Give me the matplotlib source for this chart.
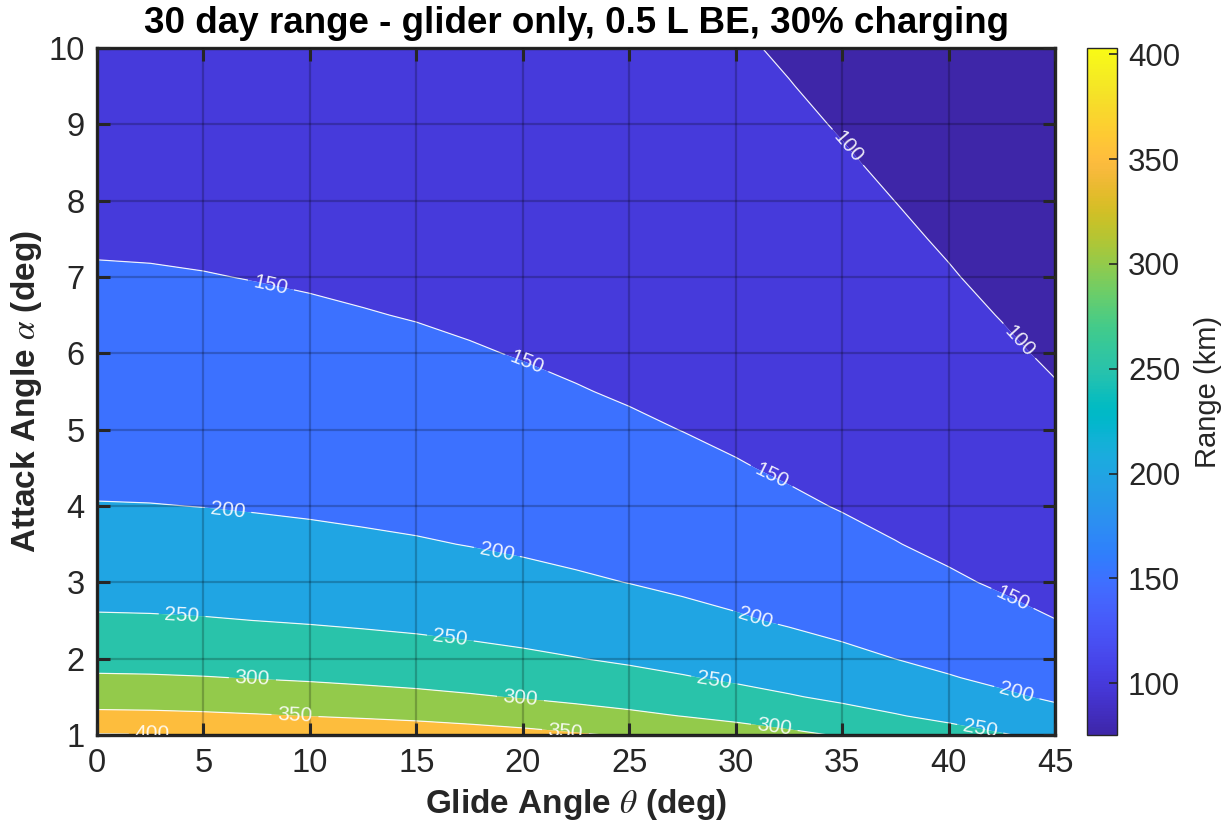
import numpy as np
import matplotlib
matplotlib.use("Agg")
import matplotlib.pyplot as plt
from matplotlib.colors import LinearSegmentedColormap, Normalize
from matplotlib.cm import ScalarMappable

plt.rcParams['font.family'] = ['Liberation Sans', 'DejaVu Sans']
plt.rcParams['mathtext.fontset'] = 'stix'

# ---- data -------------------------------------------------------------
glide_angle = [0, 2.5, 5, 7.5, 10, 12.5, 15, 17.5, 20, 22.5,
               25, 27.5, 30, 32.5, 35, 37.5, 40, 42.5, 45]            # theta (deg)
attack_angle = [1, 1.25, 1.5, 1.75, 2, 2.5, 3, 3.5, 4, 4.5, 5,
                5.5, 6, 6.5, 7, 7.5, 8, 8.5, 9, 9.5, 10]               # alpha (deg)

# range (km): one row per attack angle, one column per glide angle
range_km = [
    [403.0, 401.8, 399.0, 394.9, 390.5, 385.3, 379.6, 372.4, 364.3, 355.0, 345.4, 334.5, 322.8, 309.9, 296.6, 282.5, 268.0, 253.1, 238.2],
    [360.5, 359.4, 356.9, 353.3, 349.3, 344.6, 339.6, 333.1, 325.9, 317.6, 308.9, 299.2, 288.8, 277.2, 265.3, 252.7, 239.7, 226.4, 213.1],
    [329.1, 328.1, 325.8, 322.5, 318.9, 314.6, 310.0, 304.1, 297.5, 289.9, 282.0, 273.2, 263.6, 253.1, 242.2, 230.7, 218.9, 206.7, 194.5],
    [304.6, 303.7, 301.6, 298.5, 295.2, 291.2, 286.9, 281.5, 275.4, 268.4, 261.0, 252.8, 244.0, 234.2, 224.2, 213.5, 202.6, 191.3, 180.0],
    [285.0, 284.1, 282.2, 279.3, 276.2, 272.5, 268.5, 263.3, 257.6, 251.1, 244.2, 236.6, 228.3, 219.2, 209.8, 199.8, 189.5, 179.0, 168.4],
    [254.9, 254.1, 252.4, 249.8, 247.0, 243.7, 240.1, 235.5, 230.4, 224.6, 218.5, 211.6, 204.2, 196.0, 187.6, 178.7, 169.5, 160.1, 150.6],
    [232.7, 232.0, 230.4, 228.0, 225.5, 222.5, 219.2, 215.0, 210.4, 205.0, 199.4, 193.1, 186.4, 179.0, 171.3, 163.1, 154.7, 146.1, 137.5],
    [215.4, 214.8, 213.2, 211.1, 208.7, 205.9, 202.9, 199.0, 194.7, 189.8, 184.6, 178.8, 172.5, 165.6, 158.5, 151.0, 143.2, 135.3, 127.3],
    [201.5, 200.9, 199.5, 197.5, 195.3, 192.6, 189.8, 186.2, 182.2, 177.5, 172.7, 167.2, 161.4, 155.0, 148.3, 141.3, 134.0, 126.5, 119.1],
    [190.0, 189.4, 188.1, 186.2, 184.1, 181.6, 179.0, 175.6, 171.8, 167.4, 162.8, 157.7, 152.2, 146.1, 139.8, 133.2, 126.4, 119.3, 112.3],
    [180.2, 179.7, 178.4, 176.6, 174.6, 172.3, 169.7, 166.5, 162.9, 158.8, 154.4, 149.6, 144.3, 138.6, 132.6, 126.3, 119.8, 113.2, 106.5],
    [171.8, 171.3, 170.1, 168.4, 166.5, 164.2, 161.8, 158.7, 155.3, 151.4, 147.2, 142.6, 137.6, 132.1, 126.4, 120.4, 114.2, 107.9, 101.5],
    [164.5, 164.0, 162.9, 161.2, 159.4, 157.3, 155.0, 152.0, 148.7, 144.9, 141.0, 136.5, 131.8, 126.5, 121.1, 115.3, 109.4, 103.3, 97.2],
    [158.1, 157.6, 156.5, 154.9, 153.2, 151.1, 148.9, 146.1, 142.9, 139.3, 135.5, 131.2, 126.6, 121.6, 116.4, 110.8, 105.1, 99.3, 93.4],
    [152.3, 151.8, 150.8, 149.3, 147.6, 145.6, 143.5, 140.7, 137.7, 134.2, 130.5, 126.4, 122.0, 117.1, 112.1, 106.8, 101.3, 95.6, 90.0],
    [147.2, 146.8, 145.7, 144.3, 142.6, 140.7, 138.7, 136.0, 133.1, 129.7, 126.2, 122.2, 117.9, 113.2, 108.3, 103.2, 97.9, 92.4, 87.0],
    [142.5, 142.1, 141.1, 139.7, 138.1, 136.2, 134.2, 131.7, 128.8, 125.5, 122.1, 118.3, 114.1, 109.6, 104.9, 99.9, 94.8, 89.5, 84.2],
    [138.2, 137.8, 136.8, 135.4, 133.9, 132.1, 130.2, 127.7, 124.9, 121.8, 118.4, 114.7, 110.7, 106.3, 101.7, 96.9, 91.9, 86.8, 81.7],
    [134.3, 133.9, 133.0, 131.6, 130.1, 128.4, 126.5, 124.1, 121.4, 118.3, 115.1, 111.5, 107.6, 103.3, 98.8, 94.1, 89.3, 84.3, 79.4],
    [130.7, 130.3, 129.4, 128.1, 126.6, 124.9, 123.1, 120.8, 118.2, 115.1, 112.0, 108.5, 104.7, 100.5, 96.2, 91.6, 86.9, 82.1, 77.2],
    [127.4, 127.0, 126.1, 124.9, 123.5, 121.8, 120.0, 117.7, 115.2, 112.2, 109.2, 105.7, 102.0, 98.0, 93.8, 89.3, 84.7, 80.0, 75.3],
]

contour_levels = [100, 150, 200, 250, 300, 350, 400]
x_ticks = [0, 5, 10, 15, 20, 25, 30, 35, 40, 45]
y_ticks = [1, 2, 3, 4, 5, 6, 7, 8, 9, 10]
cbar_ticks = [100, 150, 200, 250, 300, 350, 400]

# label anchor points along the contour lines (theta, alpha)
label_spots = [
    (35.1, 8.66), (43.35, 6.17),
    (8.2, 6.93), (20.2, 5.89), (31.6, 4.34), (43.0, 2.79),
    (6.15, 3.95), (18.8, 3.42), (30.9, 2.51), (43.2, 1.55),
    (4.0, 2.57), (16.6, 2.27), (29.0, 1.72), (41.5, 1.10),
    (7.3, 1.75), (19.9, 1.50), (31.8, 1.07),
    (9.3, 1.26), (22.0, 1.04),
    (2.6, 1.01),
]

# ---- parula colour map ---------------------------------------------------
_parula = [
    [0.2422, 0.1504, 0.6603], [0.2504, 0.1650, 0.7076], [0.2578, 0.1818, 0.7511],
    [0.2647, 0.1978, 0.7952], [0.2706, 0.2147, 0.8364], [0.2751, 0.2342, 0.8710],
    [0.2783, 0.2559, 0.8991], [0.2803, 0.2782, 0.9221], [0.2813, 0.3006, 0.9414],
    [0.2810, 0.3228, 0.9579], [0.2795, 0.3447, 0.9717], [0.2760, 0.3667, 0.9829],
    [0.2699, 0.3892, 0.9906], [0.2602, 0.4123, 0.9952], [0.2440, 0.4358, 0.9988],
    [0.2206, 0.4603, 0.9973], [0.1963, 0.4847, 0.9892], [0.1834, 0.5074, 0.9798],
    [0.1786, 0.5289, 0.9682], [0.1764, 0.5499, 0.9520], [0.1687, 0.5703, 0.9359],
    [0.1540, 0.5902, 0.9218], [0.1460, 0.6091, 0.9079], [0.1380, 0.6276, 0.8973],
    [0.1248, 0.6459, 0.8883], [0.1113, 0.6635, 0.8763], [0.0952, 0.6798, 0.8598],
    [0.0689, 0.6948, 0.8394], [0.0297, 0.7082, 0.8163], [0.0036, 0.7203, 0.7917],
    [0.0067, 0.7312, 0.7660], [0.0433, 0.7411, 0.7394], [0.0964, 0.7500, 0.7120],
    [0.1408, 0.7584, 0.6842], [0.1717, 0.7670, 0.6554], [0.1938, 0.7758, 0.6251],
    [0.2161, 0.7843, 0.5923], [0.2470, 0.7918, 0.5567], [0.2906, 0.7973, 0.5188],
    [0.3406, 0.8008, 0.4789], [0.3909, 0.8029, 0.4354], [0.4456, 0.8024, 0.3909],
    [0.5044, 0.7993, 0.3480], [0.5616, 0.7942, 0.3045], [0.6174, 0.7876, 0.2612],
    [0.6720, 0.7793, 0.2227], [0.7242, 0.7698, 0.1910], [0.7738, 0.7598, 0.1646],
    [0.8203, 0.7498, 0.1535], [0.8634, 0.7406, 0.1596], [0.9035, 0.7330, 0.1774],
    [0.9393, 0.7288, 0.2100], [0.9728, 0.7298, 0.2394], [0.9956, 0.7434, 0.2371],
    [0.9970, 0.7659, 0.2199], [0.9952, 0.7893, 0.2028], [0.9892, 0.8136, 0.1885],
    [0.9786, 0.8386, 0.1766], [0.9676, 0.8639, 0.1643], [0.9610, 0.8890, 0.1537],
    [0.9597, 0.9135, 0.1423], [0.9628, 0.9373, 0.1265], [0.9691, 0.9606, 0.1064],
    [0.9769, 0.9839, 0.0805],
]
parula = LinearSegmentedColormap.from_list("parula", _parula, N=256)

# ---- figure --------------------------------------------------------------
X, Y = np.meshgrid(glide_angle, attack_angle)
Z = np.array(range_km)
zmin, zmax = Z.min(), Z.max()
norm = Normalize(vmin=zmin, vmax=zmax)

fig = plt.figure(figsize=(12.29, 8.26), dpi=100)
ax = fig.add_axes([97 / 1229, 1 - 735 / 826, (1055 - 97) / 1229, (735 - 48) / 826])
cax = fig.add_axes([1087 / 1229, 1 - 735 / 826, 30 / 1229, (735 - 48) / 826])

# filled bands take the colour of their lower bound
fill_levels = [zmin - 1] + contour_levels + [zmax + 1]
fill_colors = [parula(norm(zmin))] + [parula(norm(v)) for v in contour_levels]
ax.contourf(X, Y, Z, levels=fill_levels, colors=fill_colors, antialiased=True)
cs = ax.contour(X, Y, Z, levels=contour_levels, colors='white', linewidths=0.85, alpha=0.9)
labels = ax.clabel(cs, fmt='%d', fontsize=15, colors='white', inline=True,
                   inline_spacing=6, manual=label_spots)
for t in labels:
    t.set_clip_on(True)
    t.set_clip_path(ax.patch)

ax.set_xlim(0, 45)
ax.set_ylim(1, 10)
ax.set_xticks(x_ticks)
ax.set_yticks(y_ticks)

dark = (0.15, 0.15, 0.15)
ax.grid(True, color='black', alpha=0.22, linewidth=1.6)
ax.set_axisbelow(False)
ax.tick_params(direction='in', length=9, width=2.2, top=True, right=True,
               labelsize=23.5, colors=dark, pad=9)
for sp in ax.spines.values():
    sp.set_linewidth(2.4)
    sp.set_color(dark)

ax.set_title('30 day range - glider only, 0.5 L BE, 30% charging',
             fontsize=26.5, fontweight='bold', pad=11)
ax.set_xlabel(r'Glide Angle $\theta$ (deg)', fontsize=24, fontweight='bold',
              color=dark, labelpad=6)
ax.set_ylabel(r'Attack Angle $\alpha$ (deg)', fontsize=24, fontweight='bold',
              color=dark, labelpad=3)

sm = ScalarMappable(norm=norm, cmap=parula)
cb = fig.colorbar(sm, cax=cax)
cb.set_ticks(cbar_ticks)
cb.ax.tick_params(direction='in', length=6, width=1.2, right=True, left=False,
                  labelsize=22.5, colors=dark, pad=8)
cb.outline.set_linewidth(1.0)
cb.outline.set_edgecolor(dark)
cb.set_label('Range (km)', fontsize=21, color=dark, labelpad=10)

fig.savefig('out.png', dpi=100)
